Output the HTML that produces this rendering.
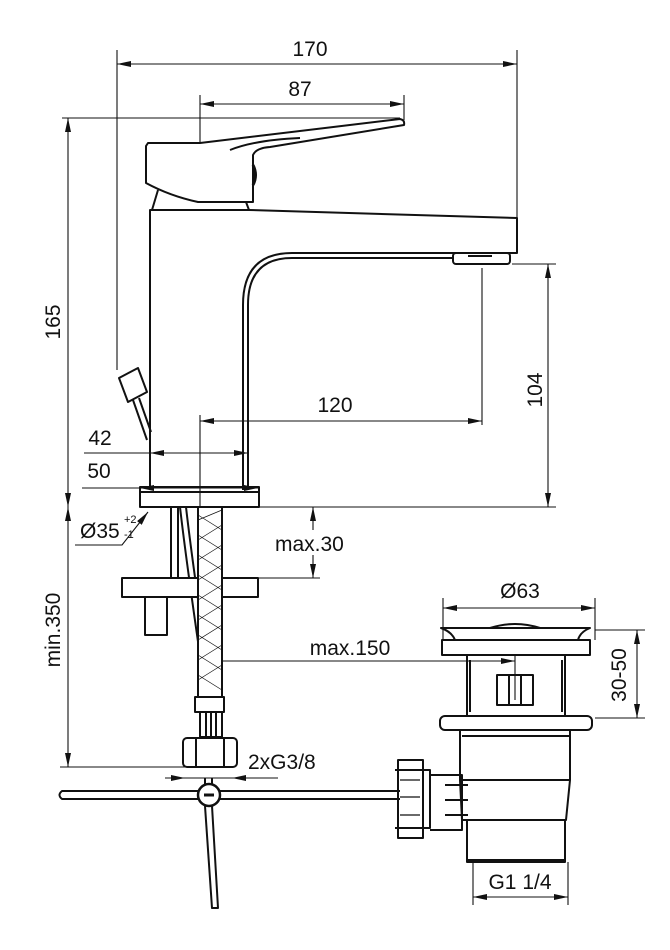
<!DOCTYPE html>
<html><head><meta charset="utf-8"><style>
html,body{margin:0;padding:0;background:#fff;}
svg{display:block}
text{font-family:"Liberation Sans",Arial,sans-serif;font-size:21px;fill:#111}
</style></head><body>
<svg width="670" height="950" viewBox="0 0 670 950" xmlns="http://www.w3.org/2000/svg">
<defs>
<marker id="a" viewBox="0 0 14 6" refX="14" refY="3" markerWidth="14" markerHeight="6" markerUnits="userSpaceOnUse" orient="auto-start-reverse"><path d="M0,0L14,3L0,6z" fill="#111"/></marker>
</defs>
<g stroke="#111" fill="none" stroke-width="1.1">
<path d="M117,50V370 M517,50V218 M200,95V143 M404,95V120 M62,118H400 M512,264H556 M259,507H556 M482,268V425 M200,415V512 M84,453H150 M82,488H140 M60,767H200 M215,578H320 M515,655V700 M443,598V640 M595,598V640 M595,630H645 M595,718H645 M473,862V905 M568,862V905 M165,778H278"/>
<path d="M117,64H517" marker-start="url(#a)" marker-end="url(#a)"/>
<path d="M200,104H404" marker-start="url(#a)" marker-end="url(#a)"/>
<path d="M68,118V507" marker-start="url(#a)" marker-end="url(#a)"/>
<path d="M548,264V507" marker-start="url(#a)" marker-end="url(#a)"/>
<path d="M200,421H482" marker-start="url(#a)" marker-end="url(#a)"/>
<path d="M150,453H248" marker-start="url(#a)" marker-end="url(#a)"/>
<path d="M140,488H258" marker-start="url(#a)" marker-end="url(#a)"/>
<path d="M68,507V767" marker-start="url(#a)" marker-end="url(#a)"/>
<path d="M313,530V507" marker-end="url(#a)"/>
<path d="M313,555V578" marker-end="url(#a)"/>
<path d="M205,661H515" marker-start="url(#a)" marker-end="url(#a)"/>
<path d="M443,608H595" marker-start="url(#a)" marker-end="url(#a)"/>
<path d="M637,630V718" marker-start="url(#a)" marker-end="url(#a)"/>
<path d="M473,897H568" marker-start="url(#a)" marker-end="url(#a)"/>
<path d="M165,778H185" marker-end="url(#a)"/>
<path d="M252,778H232" marker-end="url(#a)"/>
<path d="M75,545H122L148,512" marker-end="url(#a)"/>
</g>
<g stroke="#111" fill="none" stroke-width="2" stroke-linejoin="round">
<path d="M148,143H200L400,119Q405,120 404,125L270,147Q256,148 253,155V202H198Q170,196 146,183V146Z"/>
<path d="M230,150Q255,140 300,138"/>
<path d="M253,165Q258,175 253,185" stroke-width="3"/>
<path d="M152,210L158,190 M246,202L249,210"/>
<path d="M150,490V210H249L517,218V253H292Q243,253 243,305V490"/>
<path d="M248,490V305Q248,258 292,258H452"/>
<rect x="453" y="253" width="57" height="11" rx="3"/>
<path d="M468,256H492"/>
<rect x="140" y="487" width="119" height="20"/>
<path d="M140,492H259"/>
<path d="M119,378L138,368L147,392L128,402Z"/>
<path d="M133,400L147,440 M139,398L151,432"/>
<path d="M171,507V578 M178,507V578"/>
<path d="M180,507Q186,560 205,690"/>
<path d="M186,507Q192,560 211,690"/>
<path d="M122,578H258V597H122Z" fill="#fff"/>
<rect x="145" y="597" width="22" height="38" fill="#fff"/>
<rect x="198" y="507" width="24" height="190" fill="#fff"/>
<path d="M198,520L222,510 M198,540L222,525 M198,560L222,545 M198,580L222,565 M198,600L222,585 M198,620L222,605 M198,640L222,625 M198,660L222,645 M198,680L222,665 M198,515L222,530 M198,535L222,550 M198,555L222,570 M198,575L222,590 M198,595L222,610 M198,615L222,630 M198,635L222,650 M198,655L222,670 M198,675L222,690" stroke-width="0.7"/>
<rect x="195" y="697" width="29" height="15"/>
<path d="M200,712V737H222V712 M206,712V737 M211,712V737 M216,712V737"/>
<rect x="183" y="738" width="54" height="29" rx="4"/>
<path d="M196,738V767 M224,738V767"/>
<path d="M400,791H62Q57,795 62,799H400"/>
<circle cx="209" cy="795" r="11" stroke-width="2.5" fill="#fff"/>
<path d="M204,795H214" stroke-width="3"/>
<path d="M205,806L212,908H218L212,806"/>
<path d="M205,778V785 M212,778V785"/>
<path d="M441,628H590Q580,632 578,640H455Q452,632 441,628Z"/>
<path d="M490,628Q515,620 540,628"/>
<rect x="442" y="640" width="148" height="15"/>
<path d="M467,655V715 M565,655V715 M470,660V712 M562,660V712"/>
<rect x="497" y="675" width="36" height="30"/>
<path d="M509,675V705 M521,675V705"/>
<rect x="440" y="716" width="152" height="14" rx="5"/>
<path d="M460,730V780H570V730 M462,736H570 M460,780L462,820H566L570,780"/>
<path d="M467,820V862H565V820 M466,860H566"/>
<path d="M430,775H462V830H430"/>
<path d="M445,785H468 M445,800H468 M445,815H468"/>
<path d="M398,760H423V838H398Z M395,770H430V828H395"/>
<path d="M400,780H420 M400,797H420 M400,815H420" stroke-width="1.2"/>
</g>
<g>
<text x="310" y="56" text-anchor="middle">170</text>
<text x="300" y="96" text-anchor="middle">87</text>
<text x="335" y="412" text-anchor="middle">120</text>
<text x="100" y="445" text-anchor="middle">42</text>
<text x="99" y="478" text-anchor="middle">50</text>
<text transform="translate(60,322) rotate(-90)" text-anchor="middle">165</text>
<text transform="translate(542,390) rotate(-90)" text-anchor="middle">104</text>
<text transform="translate(60,630) rotate(-90)" text-anchor="middle">min.350</text>
<text transform="translate(626,675) rotate(-90)" text-anchor="middle">30-50</text>
<text x="80" y="538">Ø35</text>
<text x="124" y="523" style="font-size:11px">+2</text>
<text x="124" y="538" style="font-size:11px">-1</text>
<text x="275" y="551">max.30</text>
<text x="350" y="655" text-anchor="middle">max.150</text>
<text x="520" y="598" text-anchor="middle">Ø63</text>
<text x="248" y="769">2xG3/8</text>
<text x="520" y="889" text-anchor="middle">G1 1/4</text>
</g>
</svg>
</body></html>
